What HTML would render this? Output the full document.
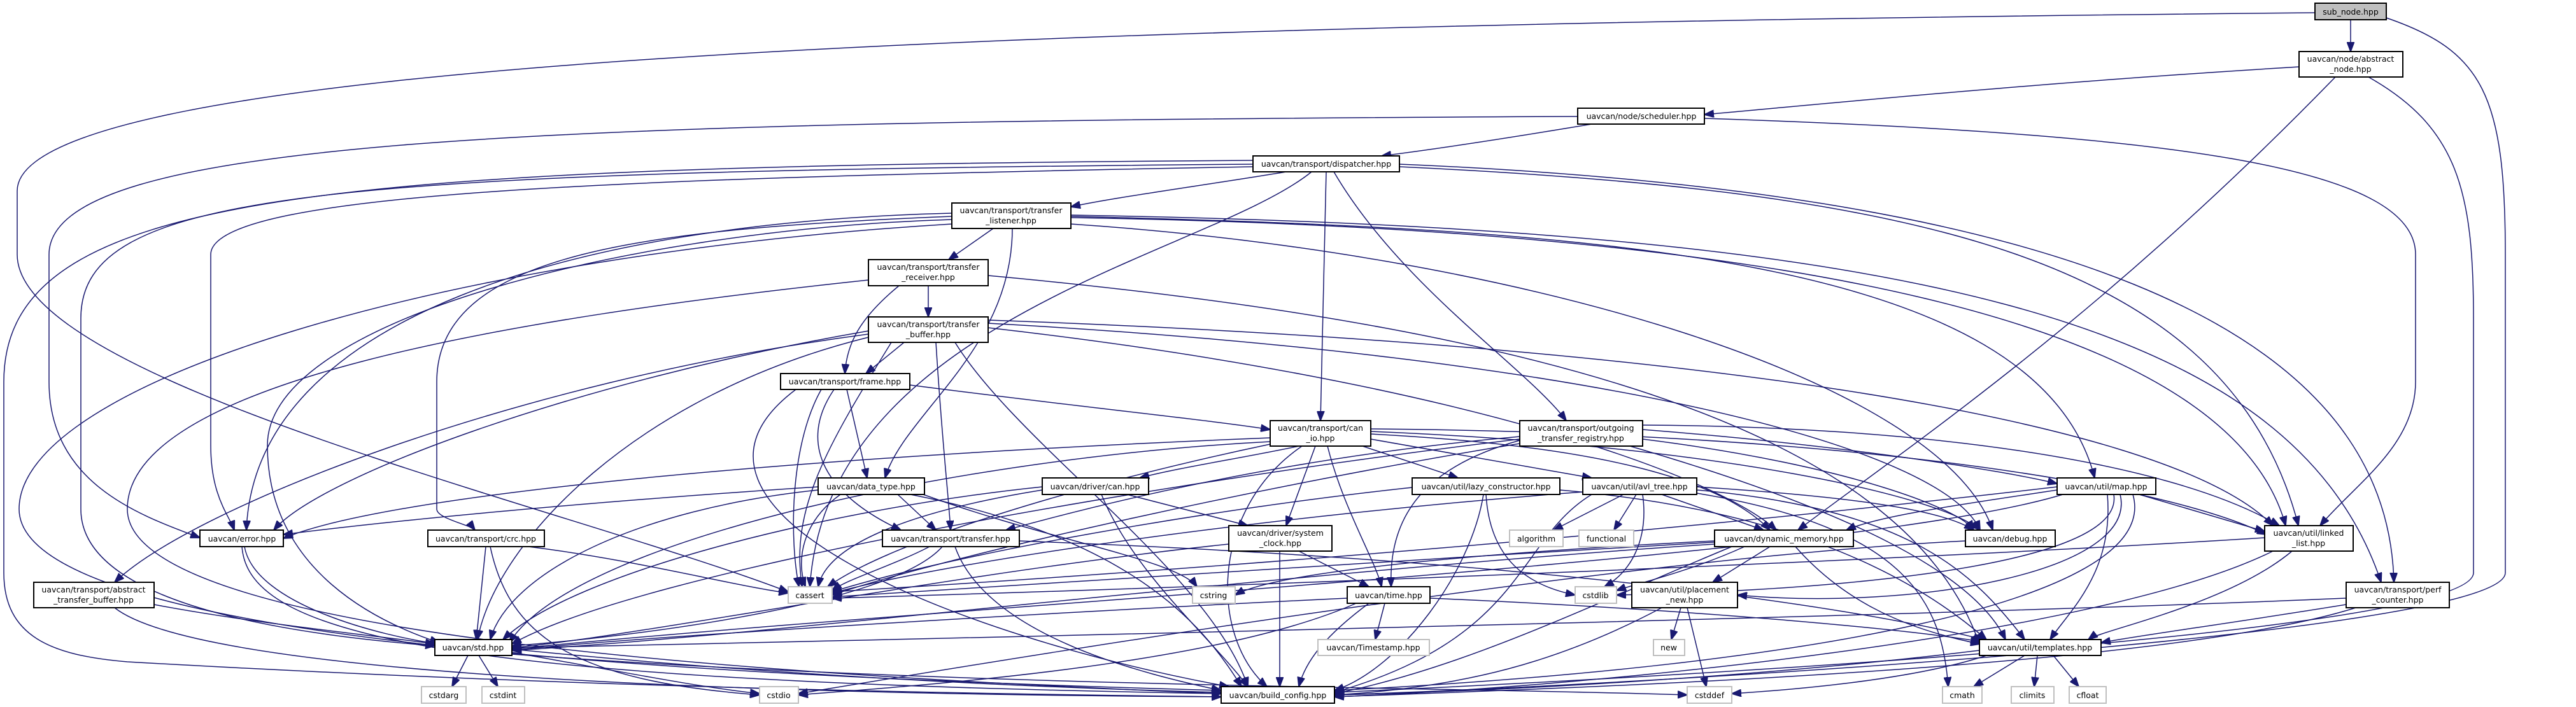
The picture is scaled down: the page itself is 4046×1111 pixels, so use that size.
<!DOCTYPE html>
<html><head><meta charset="utf-8"><style>
html,body{margin:0;padding:0;background:#fff;}
svg{display:block;}
text{font-family:"DejaVu Sans","Liberation Sans",sans-serif;font-size:12.5px;fill:#000;}
.e{fill:none;stroke:#191970;stroke-width:1.5;marker-end:url(#a);}
.n{fill:#fff;stroke:#000;stroke-width:2;}
.g{fill:#fff;stroke:#bfbfbf;stroke-width:2;}
.s{fill:#bfbfbf;stroke:#000;stroke-width:2;}
</style></head><body>
<svg width="4046" height="1111" viewBox="0 0 4046 1111" xmlns="http://www.w3.org/2000/svg">
<defs><marker id="a" markerUnits="userSpaceOnUse" markerWidth="16" markerHeight="12" refX="15" refY="6" orient="auto"><path d="M0,0 L16,6 L0,12 z" fill="#191970" stroke="#191970"/></marker></defs>
<g>
<path class="e" d="M3692,31 L3692,81"/>
<path class="e" d="M3611,105 C3200,130 2900,160 2677,180"/>
<path class="e" d="M3668,121 C3300,500 3000,700 2824,833"/>
<path class="e" d="M3636,20 C1500,40 27,100 27,300 L27,400 C27,600 900,800 1238,930"/>
<path class="e" d="M3748,28 C3900,80 3935,150 3935,400 L3935,900 C3935,1000 2500,1080 2096,1092"/>
<path class="e" d="M3720,121 C3860,200 3885,300 3885,500 L3885,900 C3885,1000 2500,1070 2096,1088"/>
<path class="e" d="M2500,195 C2350,220 2250,235 2170,245"/>
<path class="e" d="M2478,183 C800,190 77,220 77,400 L77,600 C77,760 220,810 314,845"/>
<path class="e" d="M2677,186 C3400,210 3794,260 3794,400 L3794,600 C3794,700 3700,760 3644,826"/>
<path class="e" d="M2020,270 C1900,290 1750,310 1682,325"/>
<path class="e" d="M2083,270 L2074,661"/>
<path class="e" d="M2095,270 C2200,450 2400,580 2460,661"/>
<path class="e" d="M1968,262 C1000,280 331,300 331,400 L331,700 C331,780 360,810 368,833"/>
<path class="e" d="M2060,270 C1900,400 1300,500 1272,922"/>
<path class="e" d="M1968,258 C500,270 127,300 127,500 L127,800 C127,960 500,1000 683,1015"/>
<path class="e" d="M1968,252 C500,262 6,300 6,600 L6,900 C6,1000 80,1030 200,1040 C900,1080 1500,1090 1918,1095"/>
<path class="e" d="M2198,262 C3000,300 3500,400 3610,826"/>
<path class="e" d="M2198,258 C3200,300 3750,500 3760,915"/>
<path class="e" d="M1560,359 L1490,408"/>
<path class="e" d="M1590,359 C1590,550 1420,650 1390,751"/>
<path class="e" d="M1495,340 C1000,360 686,400 686,600 L686,800 C686,815 740,825 746,833"/>
<path class="e" d="M1495,335 C900,350 400,500 387,833"/>
<path class="e" d="M1495,345 C1000,360 420,500 420,700 C420,900 600,980 690,1010"/>
<path class="e" d="M1495,352 C700,400 30,600 30,800 C30,1000 1000,1060 1918,1085"/>
<path class="e" d="M1682,340 C2500,360 3200,400 3290,751"/>
<path class="e" d="M1682,342 C2800,360 3500,500 3590,826"/>
<path class="e" d="M1682,352 C2400,400 3050,600 3130,833"/>
<path class="e" d="M1682,338 C3000,360 3600,500 3740,915"/>
<path class="e" d="M1458,449 L1458,498"/>
<path class="e" d="M1412,449 C1350,500 1330,540 1327,587"/>
<path class="e" d="M1364,440 C800,500 200,600 200,800 C200,1000 1200,1060 1918,1090"/>
<path class="e" d="M1552,433 C2500,520 3000,700 3109,1012"/>
<path class="e" d="M1420,538 L1360,587"/>
<path class="e" d="M1470,538 C1480,700 1490,780 1493,833"/>
<path class="e" d="M1364,525 C800,600 300,800 180,915"/>
<path class="e" d="M1364,520 C900,600 500,750 430,833"/>
<path class="e" d="M1364,530 C1000,620 780,850 750,1005"/>
<path class="e" d="M1500,538 C1600,700 1900,900 1960,1079"/>
<path class="e" d="M1552,515 C2300,600 2700,750 2790,833"/>
<path class="e" d="M1552,508 C2500,560 3050,700 3110,833"/>
<path class="e" d="M1552,503 C2600,540 3400,650 3570,826"/>
<path class="e" d="M1400,538 C1300,700 1240,800 1260,922"/>
<path class="e" d="M1429,605 C1700,640 1900,660 1995,675"/>
<path class="e" d="M1330,612 L1362,751"/>
<path class="e" d="M1310,612 C1250,700 1300,780 1415,833"/>
<path class="e" d="M1290,612 C1240,700 1240,850 1255,922"/>
<path class="e" d="M1250,612 C1000,800 1500,1000 1930,1079"/>
<path class="e" d="M2066,701 L2020,826"/>
<path class="e" d="M2085,701 C2110,800 2160,880 2170,922"/>
<path class="e" d="M2140,701 L2290,751"/>
<path class="e" d="M2153,690 L2500,751"/>
<path class="e" d="M2040,701 C1950,720 1850,735 1790,751"/>
<path class="e" d="M1995,688 C1200,720 600,780 445,846"/>
<path class="e" d="M1995,694 C1500,720 900,850 800,1010"/>
<path class="e" d="M1995,698 C1700,760 1400,850 1300,922"/>
<path class="e" d="M2045,701 C1900,800 1900,1000 1990,1079"/>
<path class="e" d="M2153,682 C2500,700 2700,750 2780,833"/>
<path class="e" d="M2153,678 C2700,700 3050,780 3110,833"/>
<path class="e" d="M2153,674 C2900,680 3400,760 3560,840"/>
<path class="e" d="M2387,692 C2250,730 2180,800 2185,922"/>
<path class="e" d="M2580,675 C2900,700 3150,740 3231,760"/>
<path class="e" d="M2387,686 C2000,720 1700,800 1580,833"/>
<path class="e" d="M2580,668 C3000,670 3400,720 3580,826"/>
<path class="e" d="M2580,690 C2900,730 3080,800 3100,833"/>
<path class="e" d="M2560,701 C2900,800 3100,900 3150,1005"/>
<path class="e" d="M2387,697 C2000,760 1500,870 1307,935"/>
<path class="e" d="M2387,690 C1800,760 1000,900 804,1012"/>
<path class="e" d="M3360,777 L3557,835"/>
<path class="e" d="M3310,777 C3320,900 3250,960 3220,1005"/>
<path class="e" d="M3231,770 C3100,790 2950,810 2900,833"/>
<path class="e" d="M3231,765 C2500,850 1800,900 1307,930"/>
<path class="e" d="M3240,777 C2900,880 1500,950 804,1020"/>
<path class="e" d="M3320,777 C3340,900 2800,930 2539,935"/>
<path class="e" d="M3330,777 C3360,900 3000,960 2729,935"/>
<path class="e" d="M3350,777 C3400,950 2800,1050 2096,1085"/>
<path class="e" d="M1410,777 L1470,833"/>
<path class="e" d="M1320,777 C1260,820 1250,880 1265,922"/>
<path class="e" d="M1285,770 C1000,800 800,900 770,1005"/>
<path class="e" d="M1430,777 C1800,850 1900,1000 1950,1079"/>
<path class="e" d="M1285,765 C900,790 600,820 445,840"/>
<path class="e" d="M1450,777 C1650,850 1850,880 1880,922"/>
<path class="e" d="M1770,777 L1960,826"/>
<path class="e" d="M1637,770 C1450,800 1300,850 1285,922"/>
<path class="e" d="M1637,765 C1300,800 900,900 790,1005"/>
<path class="e" d="M1730,777 C1780,900 1900,1000 1960,1079"/>
<path class="e" d="M2334,777 C2340,880 2400,920 2474,935"/>
<path class="e" d="M2330,777 C2310,900 2200,1050 2096,1085"/>
<path class="e" d="M2450,770 C2800,800 3000,900 3120,1005"/>
<path class="e" d="M2218,766 C1900,800 1500,870 1307,930"/>
<path class="e" d="M2550,777 L2440,833"/>
<path class="e" d="M2570,777 L2535,833"/>
<path class="e" d="M2580,777 C2590,850 2560,900 2520,922"/>
<path class="e" d="M2610,777 L2770,833"/>
<path class="e" d="M2500,777 C2380,850 2400,1000 2096,1088"/>
<path class="e" d="M2665,765 C2900,780 3050,800 3100,833"/>
<path class="e" d="M2665,770 C3000,800 3100,900 3180,1005"/>
<path class="e" d="M2486,773 C2000,810 1500,880 1307,932"/>
<path class="e" d="M2665,775 C3000,830 3050,950 3060,1079"/>
<path class="e" d="M384,859 C400,950 600,1000 690,1012"/>
<path class="e" d="M380,859 C390,1000 700,1070 1918,1090"/>
<path class="e" d="M763,859 L748,1005"/>
<path class="e" d="M830,859 C1000,880 1150,920 1238,932"/>
<path class="e" d="M770,859 C800,1000 900,1070 1193,1092"/>
<path class="e" d="M1460,859 C1400,890 1330,910 1307,928"/>
<path class="e" d="M1480,859 C1400,950 1000,1000 804,1015"/>
<path class="e" d="M1500,859 C1550,1000 1800,1060 1918,1085"/>
<path class="e" d="M1601,850 C2400,880 2900,950 3115,1005"/>
<path class="e" d="M2040,866 L2150,922"/>
<path class="e" d="M1930,855 C1500,900 1000,1000 804,1018"/>
<path class="e" d="M2010,866 L2010,1079"/>
<path class="e" d="M2780,859 L2690,915"/>
<path class="e" d="M2740,859 C2650,900 2560,920 2539,928"/>
<path class="e" d="M2693,850 C2300,870 2000,900 1940,935"/>
<path class="e" d="M2720,859 C2500,950 2300,1050 2096,1090"/>
<path class="e" d="M2820,859 C2900,950 3000,990 3110,1012"/>
<path class="e" d="M2693,855 C2000,900 1200,1000 804,1022"/>
<path class="e" d="M2693,852 C2200,880 1600,920 1307,938"/>
<path class="e" d="M3087,850 C2500,880 1500,1050 1254,1090"/>
<path class="e" d="M3600,866 C3500,950 3300,990 3280,1005"/>
<path class="e" d="M3570,866 C3300,1000 2500,1080 2096,1095"/>
<path class="e" d="M3557,845 C3000,880 2000,920 1307,940"/>
<path class="e" d="M242,950 C400,980 600,1000 683,1012"/>
<path class="e" d="M180,955 C300,1050 1000,1090 1918,1095"/>
<path class="e" d="M2175,948 L2160,1005"/>
<path class="e" d="M2116,940 C1700,960 1000,1000 804,1022"/>
<path class="e" d="M2150,948 C2080,1000 2050,1040 2040,1079"/>
<path class="e" d="M2246,940 C2700,960 3000,990 3110,1008"/>
<path class="e" d="M2130,948 C1900,1050 1400,1080 1254,1092"/>
<path class="e" d="M2640,955 L2625,1005"/>
<path class="e" d="M2650,955 L2680,1079"/>
<path class="e" d="M2610,955 C2450,1040 2300,1080 2096,1092"/>
<path class="e" d="M3685,950 C3500,980 3350,1000 3300,1010"/>
<path class="e" d="M3700,955 C3400,1050 2500,1080 2096,1095"/>
<path class="e" d="M3685,940 C3000,970 1200,1010 804,1018"/>
<path class="e" d="M735,1030 L710,1079"/>
<path class="e" d="M752,1030 L782,1079"/>
<path class="e" d="M804,1025 C1000,1060 1100,1080 1193,1090"/>
<path class="e" d="M804,1020 C1200,1060 1600,1080 1918,1088"/>
<path class="e" d="M804,1028 C1500,1080 2300,1080 2650,1092"/>
<path class="e" d="M3180,1030 L3100,1079"/>
<path class="e" d="M3200,1030 L3195,1079"/>
<path class="e" d="M3225,1030 L3265,1079"/>
<path class="e" d="M3109,1022 C2800,1060 2400,1085 2096,1092"/>
<path class="e" d="M3120,1030 C3000,1070 2800,1085 2720,1090"/>
</g>
<g text-anchor="middle">
<rect class="s" x="3636" y="5" width="112" height="26"/><text x="3692" y="23">sub_node.hpp</text>
<rect class="n" x="3611" y="81" width="163" height="40"/><text x="3692" y="97">uavcan/node/abstract</text><text x="3692" y="113">_node.hpp</text>
<rect class="n" x="2478" y="170" width="199" height="25"/><text x="2578" y="187">uavcan/node/scheduler.hpp</text>
<rect class="n" x="1968" y="245" width="230" height="25"/><text x="2083" y="262">uavcan/transport/dispatcher.hpp</text>
<rect class="n" x="1495" y="319" width="187" height="40"/><text x="1588" y="335">uavcan/transport/transfer</text><text x="1588" y="351">_listener.hpp</text>
<rect class="n" x="1364" y="408" width="188" height="41"/><text x="1458" y="424">uavcan/transport/transfer</text><text x="1458" y="440">_receiver.hpp</text>
<rect class="n" x="1364" y="498" width="188" height="40"/><text x="1458" y="514">uavcan/transport/transfer</text><text x="1458" y="530">_buffer.hpp</text>
<rect class="n" x="1226" y="587" width="203" height="25"/><text x="1327" y="604">uavcan/transport/frame.hpp</text>
<rect class="n" x="1995" y="661" width="158" height="40"/><text x="2074" y="677">uavcan/transport/can</text><text x="2074" y="693">_io.hpp</text>
<rect class="n" x="2387" y="661" width="193" height="40"/><text x="2483" y="677">uavcan/transport/outgoing</text><text x="2483" y="693">_transfer_registry.hpp</text>
<rect class="n" x="3231" y="751" width="155" height="26"/><text x="3308" y="769">uavcan/util/map.hpp</text>
<rect class="n" x="1285" y="751" width="167" height="26"/><text x="1368" y="769">uavcan/data_type.hpp</text>
<rect class="n" x="1637" y="751" width="167" height="26"/><text x="1720" y="769">uavcan/driver/can.hpp</text>
<rect class="n" x="2218" y="751" width="232" height="26"/><text x="2334" y="769">uavcan/util/lazy_constructor.hpp</text>
<rect class="n" x="2486" y="751" width="179" height="26"/><text x="2575" y="769">uavcan/util/avl_tree.hpp</text>
<rect class="n" x="314" y="833" width="131" height="26"/><text x="380" y="851">uavcan/error.hpp</text>
<rect class="n" x="672" y="833" width="183" height="26"/><text x="763" y="851">uavcan/transport/crc.hpp</text>
<rect class="n" x="1386" y="833" width="215" height="26"/><text x="1493" y="851">uavcan/transport/transfer.hpp</text>
<rect class="n" x="1930" y="826" width="162" height="40"/><text x="2011" y="842">uavcan/driver/system</text><text x="2011" y="858">_clock.hpp</text>
<rect class="g" x="2371" y="833" width="84" height="26"/><text x="2413" y="851">algorithm</text>
<rect class="g" x="2480" y="833" width="86" height="26"/><text x="2523" y="851">functional</text>
<rect class="n" x="2693" y="833" width="218" height="26"/><text x="2802" y="851">uavcan/dynamic_memory.hpp</text>
<rect class="n" x="3087" y="833" width="141" height="26"/><text x="3157" y="851">uavcan/debug.hpp</text>
<rect class="n" x="3557" y="826" width="139" height="40"/><text x="3626" y="842">uavcan/util/linked</text><text x="3626" y="858">_list.hpp</text>
<rect class="n" x="53" y="915" width="189" height="40"/><text x="147" y="931">uavcan/transport/abstract</text><text x="147" y="947">_transfer_buffer.hpp</text>
<rect class="g" x="1238" y="922" width="69" height="26"/><text x="1272" y="940">cassert</text>
<rect class="g" x="1873" y="922" width="67" height="26"/><text x="1906" y="940">cstring</text>
<rect class="n" x="2116" y="922" width="130" height="26"/><text x="2181" y="940">uavcan/time.hpp</text>
<rect class="g" x="2474" y="922" width="65" height="26"/><text x="2506" y="940">cstdlib</text>
<rect class="n" x="2563" y="915" width="166" height="40"/><text x="2646" y="931">uavcan/util/placement</text><text x="2646" y="947">_new.hpp</text>
<rect class="n" x="3685" y="915" width="162" height="40"/><text x="3766" y="931">uavcan/transport/perf</text><text x="3766" y="947">_counter.hpp</text>
<rect class="n" x="683" y="1005" width="121" height="25"/><text x="743" y="1022">uavcan/std.hpp</text>
<rect class="g" x="2070" y="1005" width="175" height="25"/><text x="2157" y="1022">uavcan/Timestamp.hpp</text>
<rect class="g" x="2597" y="1005" width="49" height="25"/><text x="2621" y="1022">new</text>
<rect class="n" x="3109" y="1005" width="191" height="25"/><text x="3204" y="1022">uavcan/util/templates.hpp</text>
<rect class="g" x="662" y="1079" width="70" height="26"/><text x="697" y="1097">cstdarg</text>
<rect class="g" x="757" y="1079" width="67" height="26"/><text x="790" y="1097">cstdint</text>
<rect class="g" x="1193" y="1079" width="61" height="26"/><text x="1223" y="1097">cstdio</text>
<rect class="n" x="1918" y="1079" width="178" height="26"/><text x="2007" y="1097">uavcan/build_config.hpp</text>
<rect class="g" x="2650" y="1079" width="70" height="26"/><text x="2685" y="1097">cstddef</text>
<rect class="g" x="3051" y="1079" width="62" height="26"/><text x="3082" y="1097">cmath</text>
<rect class="g" x="3159" y="1079" width="67" height="26"/><text x="3192" y="1097">climits</text>
<rect class="g" x="3250" y="1079" width="58" height="26"/><text x="3279" y="1097">cfloat</text>
</g>
</svg>
</body></html>
